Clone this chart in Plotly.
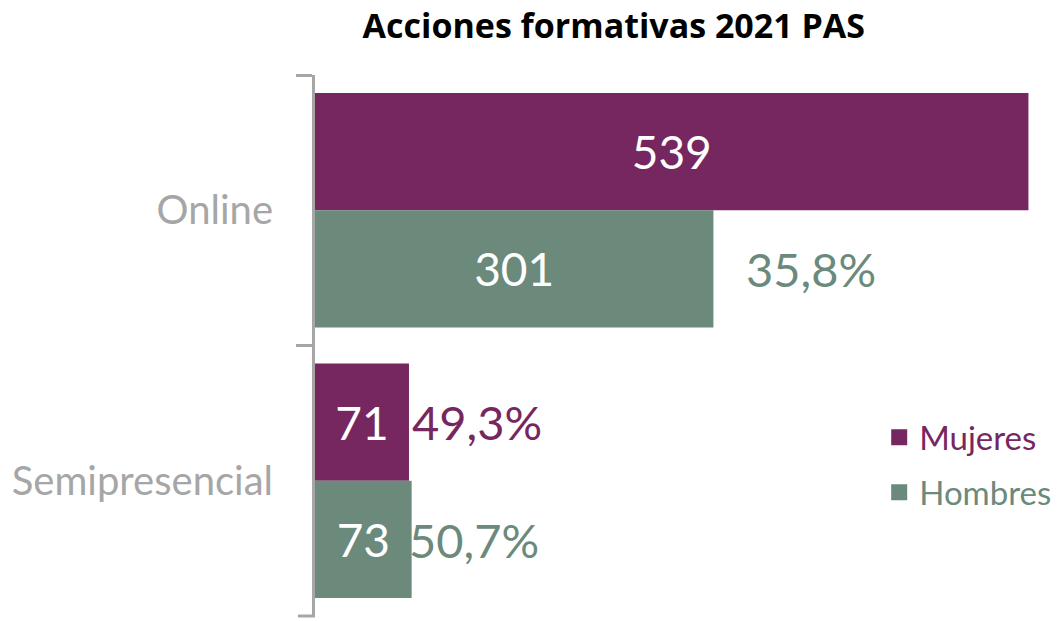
import plotly.graph_objects as go

categories = ["Online", "Semipresencial"]
mujeres = [539, 71]
hombres = [301, 73]
# percentage labels as shown in the reference (None = not visible)
pct_mujeres = [None, "49,3%"]
pct_hombres = ["35,8%", "50,7%"]

C_M = "#76275F"
C_H = "#6B8A7B"
GREY = "#A6A6A6"
FONT = "Lato"

fig = go.Figure()
fig.add_trace(go.Bar(
    y=categories, x=mujeres, orientation="h", name="Mujeres",
    marker=dict(color=C_M, line=dict(width=0)),
    text=[str(v) for v in mujeres], textposition="inside",
    insidetextanchor="middle", textfont=dict(color="white", size=46, family=FONT),
    showlegend=False,
))
fig.add_trace(go.Bar(
    y=categories, x=hombres, orientation="h", name="Hombres",
    marker=dict(color=C_H, line=dict(width=0)),
    text=[str(v) for v in hombres], textposition="inside",
    insidetextanchor="middle", textfont=dict(color="white", size=46, family=FONT),
    showlegend=False,
))

# legend entries
for nm, col, grp in [("Mujeres", C_M, "m"), ("Hombres", C_H, "h")]:
    fig.add_trace(go.Scatter(
        x=[None], y=[None], mode="markers", legendgroup=grp,
        name=f"<span style='color:{col}'>{nm}</span>",
        marker=dict(symbol="square", size=22, color=col),
    ))

annotations = []
shift_m = [0, 1]
shift_h = [31, -5]
for i, cat in enumerate(categories):
    if pct_mujeres[i]:
        annotations.append(dict(x=mujeres[i], y=cat, xref="x", yref="y", text=pct_mujeres[i],
                                showarrow=False, xanchor="left", yanchor="middle",
                                xshift=shift_m[i], yshift=59,
                                font=dict(color=C_M, size=47, family=FONT)))
    if pct_hombres[i]:
        annotations.append(dict(x=hombres[i], y=cat, xref="x", yref="y", text=pct_hombres[i],
                                showarrow=False, xanchor="left", yanchor="middle",
                                xshift=shift_h[i], yshift=-59,
                                font=dict(color=C_H, size=47, family=FONT)))

fig.update_layout(
    width=1062, height=621,
    margin=dict(l=315, r=19, t=75, b=5, autoexpand=False),
    paper_bgcolor="white", plot_bgcolor="white",
    barmode="group", bargap=0.133, bargroupgap=0,
    title=dict(text="<b>Acciones formativas 2021 PAS</b>", x=0.578, xanchor="center",
               y=0.958, yanchor="middle", yref="container",
               font=dict(family="Open Sans", size=34, color="black")),
    xaxis=dict(range=[0, 550], visible=False, showgrid=False, zeroline=False),
    yaxis=dict(categoryorder="array", categoryarray=categories,
               range=[len(categories) - 0.5, -0.5],
               showline=True, linecolor=GREY, linewidth=3, automargin=False,
               ticks="outside", tickson="boundaries", ticklen=16, tickwidth=3, tickcolor=GREY,
               tickfont=dict(family=FONT, size=40, color=GREY),
               ticklabelstandoff=31, showgrid=False, zeroline=False),
    legend=dict(x=0.775, y=0.382, xanchor="left", yanchor="top",
                font=dict(family=FONT, size=33), tracegroupgap=9,
                bgcolor="rgba(0,0,0,0)"),
    annotations=annotations,
    # closing tick of the axis bracket (plotly omits the last boundary tick)
    shapes=[dict(type="line", xref="paper", yref="paper", xsizemode="pixel", xanchor=0,
                 x0=-17, x1=0, y0=0, y1=0, line=dict(color=GREY, width=3))],
    showlegend=True,
)

fig.write_html("out.html", config={"displayModeBar": False},
               post_script="document.body.style.margin='0';")
